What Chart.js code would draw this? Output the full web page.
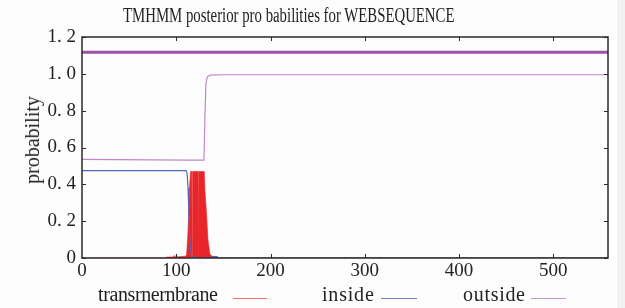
<!DOCTYPE html>
<html><head><meta charset="utf-8">
<script src="https://cdn.jsdelivr.net/npm/chart.js@4.4.1/dist/chart.umd.min.js"></script>
<style>
html,body{margin:0;padding:0;background:#fff;}
#wrap{position:relative;width:625px;height:308px;overflow:hidden;background:#fdfdfd;}
#edge{position:absolute;left:617px;top:0;width:8px;height:308px;background:#f2f2f2;}
canvas{position:absolute;left:0;top:0;}
.t{position:absolute;font-family:"Liberation Serif",serif;color:#222;white-space:nowrap;transform-origin:0 0;}
#title{left:123px;top:4px;font-size:20px;transform:scaleX(0.74);}
#ylab{left:21px;top:140px;font-size:20px;transform-origin:0 0;transform:rotate(-90deg) translate(-50%,0);}
.lg{top:283px;font-size:20px;}
.ln{position:absolute;height:1.5px;top:297.5px;}
</style></head>
<body><div id="wrap"><div id="edge"></div>
<canvas id="c" width="625" height="308"></canvas>
<div id="title" class="t">TMHMM posterior pro babilities for WEBSEQUENCE</div>
<div id="ylab" class="t">probability</div>
<div class="t lg" style="left:98px;letter-spacing:-0.4px">transrnernbrane</div>
<div class="ln" style="left:233px;width:34px;background:#f07068"></div>
<div class="t lg" style="left:322px;letter-spacing:0.8px">inside</div>
<div class="ln" style="left:381px;width:36px;background:#7080c8"></div>
<div class="t lg" style="left:463px;letter-spacing:0.7px">outside</div>
<div class="ln" style="left:531px;width:35px;background:#c898d4"></div>
</div>
<script>
const xTicks = [0,100,200,300,400,500];
const yTicks = [0,0.2,0.4,0.6,0.8,1.0,1.2];
const yTickLabels = ['0','0. 2','0. 4','0. 6','0. 8','1. 0','1. 2'];
const xMax = 558;

const tmX = [0,88,90,97,98,99,105,110,111,112.5,114,115.2,116.5,116.9,117.3,123.3,123.7,124.1,129.7,130.5,132,133.6,135.7,138,142.8,144,558];
const tmY = [0,0,0.005,0.006,0.014,0.006,0.008,0.01,0.02,0.15,0.38,0.47,0.47,0.0,0.47,0.47,0.0,0.47,0.47,0.36,0.25,0.1,0.02,0.01,0.005,0,0];

const insideX = [0,110.3,111.5,112.5,113.5,114.5,116.2,120,136,138,143,145,558];
const insideY = [0.474,0.474,0.46,0.38,0.22,0.08,0.01,0,0,0.008,0.008,0,0];

const outsideX = [0,113.5,129.4,130.3,131.5,133,136,150,558];
const outsideY = [0.536,0.531,0.531,0.75,0.95,0.985,0.993,0.995,0.995];

const topX = [0,558];
const topY = [1.117,1.117];

const pts = (xs, ys) => xs.map((x,i)=>({x:x,y:ys[i]}));

const frame = {
  id:'frame',
  afterDatasetsDraw(chart){
    const {ctx, chartArea:a, scales:{x,y}} = chart;
    ctx.save();
    ctx.strokeStyle = '#2a2a2a';
    ctx.lineWidth = 1;
    ctx.beginPath();
    xTicks.forEach(v=>{
      if(v===0) return;
      const px = Math.round(x.getPixelForValue(v))+0.5;
      ctx.moveTo(px,a.bottom); ctx.lineTo(px,a.bottom-4);
      ctx.moveTo(px,a.top); ctx.lineTo(px,a.top+4);
    });
    yTicks.forEach(v=>{
      const py = Math.round(y.getPixelForValue(v))+0.5;
      ctx.moveTo(a.left,py); ctx.lineTo(a.left+4,py);
      ctx.moveTo(a.right,py); ctx.lineTo(a.right-4,py);
    });
    ctx.stroke();
    ctx.lineWidth = 1.5;
    ctx.strokeRect(a.left, a.top, a.right-a.left, a.bottom-a.top);
    ctx.restore();
  }
};

new Chart(document.getElementById('c'), {
  type:'line',
  data:{datasets:[
    {label:'transrnernbrane', data:pts(tmX,tmY), borderColor:'#e8262a', backgroundColor:'#e8262a', borderWidth:0.6, fill:'origin', order:1},
    {label:'inside', data:pts(insideX,insideY), borderColor:'#5565c0', borderWidth:1.2, fill:false, order:0},
    {label:'outside', data:pts(outsideX,outsideY), borderColor:'#c286cc', borderWidth:1.2, fill:false, order:0},
    {label:'top', data:pts(topX,topY), borderColor:'#a050a8', borderWidth:3, fill:false, order:0}
  ]},
  options:{
    responsive:false, animation:false, devicePixelRatio:1,
    layout:{padding:{left:0,right:17,top:37,bottom:28}},
    elements:{point:{radius:0}, line:{tension:0}},
    plugins:{legend:{display:false}, tooltip:{enabled:false}, title:{display:false}},
    scales:{
      x:{type:'linear', min:0, max:xMax,
        afterBuildTicks:s=>{s.ticks = xTicks.map(v=>({value:v}));},
        afterFit:s=>{s.height = 22;},
        grid:{display:false, drawTicks:false},
        border:{display:false},
        ticks:{padding:2, color:'#222', font:{family:'Liberation Serif', size:19}, callback:v=>String(v)}
      },
      y:{type:'linear', min:0, max:1.2,
        afterBuildTicks:s=>{s.ticks = yTicks.map(v=>({value:v}));},
        afterFit:s=>{s.width = 82;},
        grid:{display:false, drawTicks:false},
        border:{display:false},
        ticks:{padding:6, color:'#222', font:{family:'Liberation Serif', size:19},
          callback:(v,i)=>yTickLabels[yTicks.indexOf(v)] }
      }
    }
  },
  plugins:[frame]
});
</script>
</body></html>
